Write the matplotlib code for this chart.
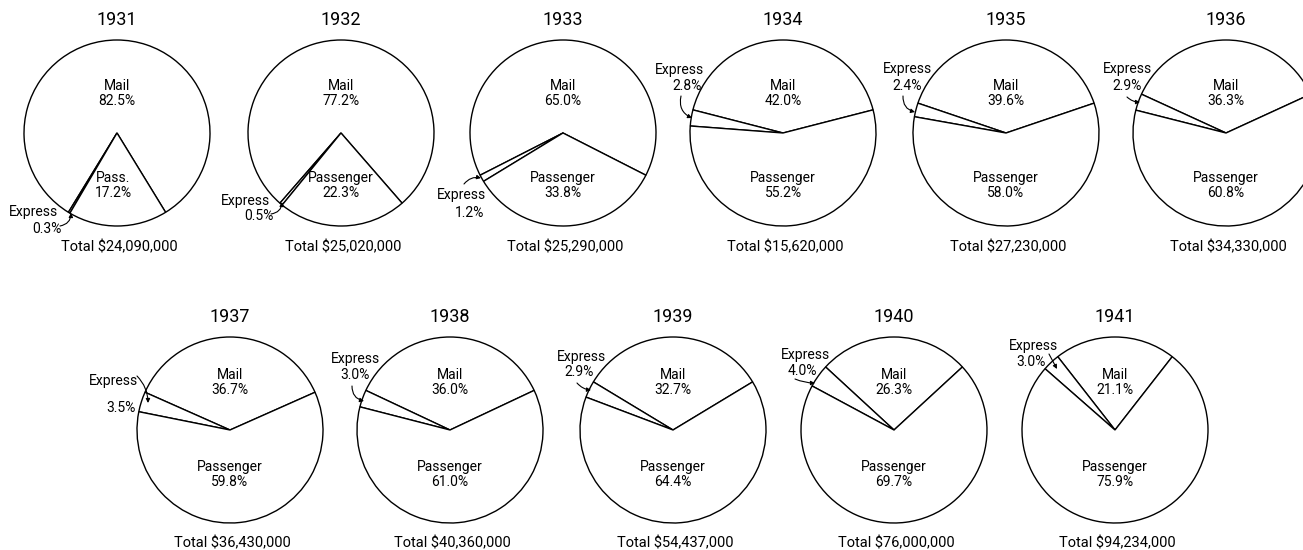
import matplotlib.pyplot as plt

plt.rcParams['font.family'] = ['Roboto', 'DejaVu Sans']

W, H = 1303, 550

# data
years = [1931, 1932, 1933, 1934, 1935, 1936, 1937, 1938, 1939, 1940, 1941]
mail = [82.5, 77.2, 65.0, 42.0, 39.6, 36.3, 36.7, 36.0, 32.7, 26.3, 21.1]
express = [0.3, 0.5, 1.2, 2.8, 2.4, 2.9, 3.5, 3.0, 2.9, 4.0, 3.0]
passenger = [17.2, 22.3, 33.8, 55.2, 58.0, 60.8, 59.8, 61.0, 64.4, 69.7, 75.9]
totals = ['$24,090,000', '$25,020,000', '$25,290,000', '$15,620,000',
          '$27,230,000', '$34,330,000', '$36,430,000', '$40,360,000',
          '$54,437,000', '$76,000,000', '$94,234,000']
pass_names = ['Pass.'] + ['Passenger'] * 10

# layout (pixels, y measured from top)
centers = [(117, 133), (341, 133), (563, 133), (783, 133), (1006, 133), (1226, 133),
           (230, 430), (450, 430), (673, 430), (894, 430), (1115, 430)]
R = 93
# express label: line1 pos, line2 pos, arrow start, arrow end, curvature
exp_layout = [
    ((33, 212), (47, 229), (60, 226), (71, 213), 0.4),
    ((245, 201), (259, 216), (271, 214), (282, 202), 0.4),
    ((461, 195), (470, 213), (464, 184), (481, 178), -0.3),
    ((680, 70), (687, 86), (681, 96), (692, 118), 0.4),
    ((907, 69), (907, 86), (903, 96), (915, 112), 0.4),
    ((1127, 69), (1127, 86), (1127, 97), (1140, 102), 0.2),
    ((113, 381), (121, 408), (137, 376), (148, 403), -0.2),
    ((356, 359), (355, 375), (352, 386), (364, 401), 0.4),
    ((581, 357), (579, 372), (577, 383), (591, 390), 0.2),
    ((805, 355), (802, 371), (795, 379), (815, 383), 0.1),
    ((1034, 346), (1031, 362), (1049, 354), (1057, 369), 0.0),
]


def Y(y):
    return H - y


fig = plt.figure(figsize=(W / 100, H / 100), dpi=100)
ax = fig.add_axes([0, 0, 1, 1])

fs = 10
for i, yr in enumerate(years):
    cx, cy = centers[i]
    start = 90 - mail[i] * 3.6 / 2
    ax.pie([mail[i], express[i], passenger[i]], center=(cx, Y(cy)), radius=R,
           startangle=start, counterclock=True, frame=True,
           wedgeprops=dict(facecolor='white', edgecolor='black', linewidth=1.0))

    top = i < 6
    ax.text(cx, Y(20 if top else 317), str(yr), ha='center', va='center', fontsize=13)
    ax.text(cx + 2, Y(247 if top else 543), 'Total ' + totals[i], ha='center', va='center', fontsize=10.5)

    md = (-47, -32) if top else (-55, -40)
    pd = (45, 60) if top else (37, 52)
    px = cx - 4 if i == 0 else cx
    ax.text(cx, Y(cy + md[0]), 'Mail', ha='center', va='center', fontsize=fs)
    ax.text(cx, Y(cy + md[1]), '%.1f%%' % mail[i], ha='center', va='center', fontsize=fs)
    ax.text(px, Y(cy + pd[0]), pass_names[i], ha='center', va='center', fontsize=fs)
    ax.text(px, Y(cy + pd[1]), '%.1f%%' % passenger[i], ha='center', va='center', fontsize=fs)

    l1, l2, a0, a1, rad = exp_layout[i]
    ax.text(l1[0], Y(l1[1]), 'Express', ha='center', va='center', fontsize=fs)
    ax.text(l2[0], Y(l2[1]), '%.1f%%' % express[i], ha='center', va='center', fontsize=fs)
    ax.annotate('', xy=(a1[0], Y(a1[1])), xytext=(a0[0], Y(a0[1])),
                arrowprops=dict(arrowstyle='-|>', lw=0.8, color='black', mutation_scale=6,
                                shrinkA=0, shrinkB=0, connectionstyle='arc3,rad=%.2f' % rad))

ax.set_xlim(0, W)
ax.set_ylim(0, H)
ax.set_aspect('equal')
ax.axis('off')

fig.savefig('out.png', dpi=100, facecolor='white')
